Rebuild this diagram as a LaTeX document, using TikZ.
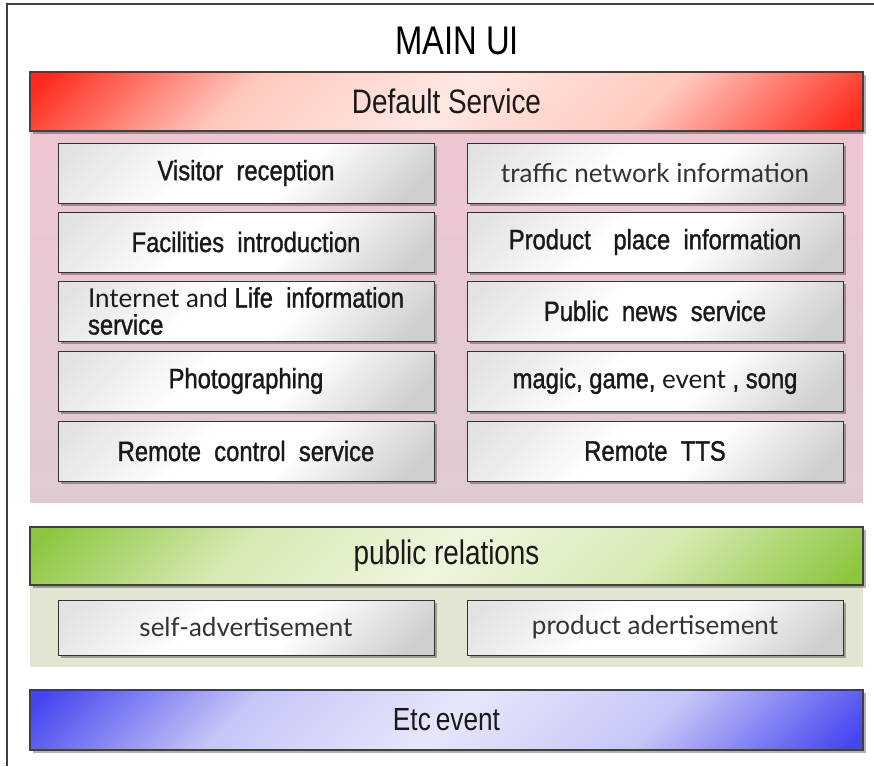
\documentclass[tikz,border=0pt]{standalone}
\usepackage{fontspec}
\setmainfont{Liberation Sans}
\newfontfamily\narrowfont[FakeStretch=0.82]{Liberation Sans}
\newfontfamily\dotum[FakeStretch=0.85,FakeBold=1.2]{Liberation Sans}
\newfontfamily\malgun{Lato}
\usetikzlibrary{shadows}
\definecolor{rd}{HTML}{FF2A1C}
\definecolor{rl}{HTML}{FFC8BE}
\definecolor{rc}{HTML}{FFE8E2}
\definecolor{gd}{HTML}{8CC63E}
\definecolor{gl}{HTML}{D6EAB2}
\definecolor{gc}{HTML}{EEF5DE}
\definecolor{bd}{HTML}{4646F0}
\definecolor{bl}{HTML}{C6C6F8}
\definecolor{bc}{HTML}{E6E6FB}
\definecolor{bxl}{HTML}{E2E2E2}
\definecolor{bxd}{HTML}{CFCFCF}
\definecolor{pinkt}{HTML}{EEC6D2}
\definecolor{pinkb}{HTML}{DECBD1}
\definecolor{olive}{HTML}{E1E5D2}
\definecolor{frame}{HTML}{404040}
\pgfdeclareverticalshading{redbar}{100bp}{color(0bp)=(rd); color(16bp)=(rd); color(33bp)=(rl); color(50bp)=(rc); color(67bp)=(rl); color(84bp)=(rd); color(100bp)=(rd)}
\pgfdeclareverticalshading{greenbar}{100bp}{color(0bp)=(gd); color(16bp)=(gd); color(33bp)=(gl); color(50bp)=(gc); color(67bp)=(gl); color(84bp)=(gd); color(100bp)=(gd)}
\pgfdeclareverticalshading{bluebar}{100bp}{color(0bp)=(bd); color(16bp)=(bd); color(33bp)=(bl); color(50bp)=(bc); color(67bp)=(bl); color(84bp)=(bd); color(100bp)=(bd)}
\pgfdeclareverticalshading{boxshade}{100bp}{color(0bp)=(bxd); color(20bp)=(bxd); color(42bp)=(white); color(58bp)=(white); color(82bp)=(bxl); color(100bp)=(bxl)}
\tikzset{
  bar/.style={draw=black!75, line width=1.2pt, shade, shading angle=45,
    minimum width=833pt, minimum height=59pt, inner sep=0pt,
    drop shadow={shadow xshift=3pt, shadow yshift=-3pt, opacity=0.3, fill=black},
    font=\narrowfont\fontsize{34}{40}\selectfont, text=black!90},
  box/.style={draw=black!80, line width=1pt, shade, shading=boxshade, shading angle=45,
    minimum width=376pt, minimum height=60pt, inner sep=0pt, align=center,
    drop shadow={shadow xshift=3pt, shadow yshift=-3pt, opacity=0.3, fill=black},
    font=\dotum\fontsize{28}{27}\selectfont, text=black!90},
  region/.style={minimum width=833pt, inner sep=0pt},
  lightfont/.style={font=\malgun\fontsize{26}{30}\selectfont, text=black!80}
}
\newcommand{\lt}[1]{{\malgun\fontsize{26}{27}\selectfont #1}}
\begin{document}
\begin{tikzpicture}[x=1pt,y=-1pt]
\useasboundingbox (0,0) rectangle (874,766);
\fill[white] (0,0) rectangle (874,766);
\draw[frame, line width=1.5pt] (7,766) -- (7,4) -- (874,4);

\node[font=\narrowfont\fontsize{40}{48}\selectfont, text=black] (title) at (457,41) {MAIN UI};

% default service
\node[region, shade, top color=pinkt, bottom color=pinkb, minimum height=371pt] (pink) at (446.5,316.5) {};
\node[bar, shading=redbar] (default) at (446.5,101.5) {Default Service};

\node[box] (visitor) at (246,173) {Visitor\ \ reception};
\node[box] (facil) at (246,242) {Facilities\ \ introduction};
\node[box, align=left] (internet) at (246,311) {\lt{Internet and} Life\ \ information\\service};
\node[box] (photo) at (246,381) {Photographing};
\node[box] (remote) at (246,451) {Remote\ \ control\ \ service};

\node[box, lightfont] (traffic) at (655,173) {traffic network information};
\node[box] (product) at (655,242) {Product\hspace{16pt} place\ \ information};
\node[box] (news) at (655,311) {Public\ \ news\ \ service};
\node[box] (magic) at (655,381) {magic,\ game,\ \lt{event}\ ,\ song};
\node[box] (tts) at (655,451) {Remote\ \ TTS};

% public relations
\node[region, fill=olive, minimum height=82pt] (green) at (446.5,626) {};
\node[bar, shading=greenbar, minimum height=58pt] (pr) at (446.5,556) {public relations};
\node[box, lightfont, minimum height=55pt] (selfad) at (246,627.5) {self-advertisement};
\node[box, lightfont, minimum height=55pt] (prodad) at (655,627.5) {product adertisement};

% etc
\node[bar, shading=bluebar, minimum height=60pt, font=\narrowfont\fontsize{32}{38}\selectfont] (etc) at (446.5,720) {Etc\hspace{5pt}event};
\end{tikzpicture}
\end{document}
